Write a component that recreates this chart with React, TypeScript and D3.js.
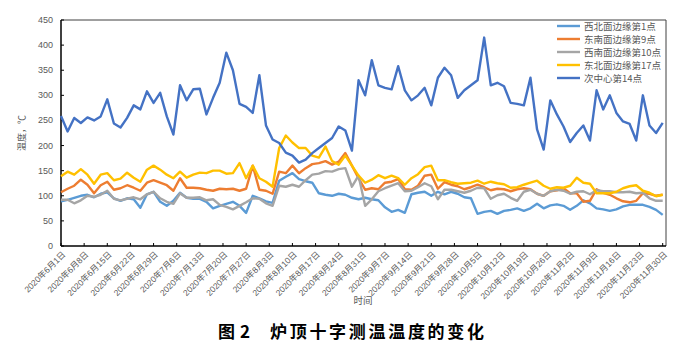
import * as d3 from 'd3';

// 数据：2020-06-01 起每 2 天一个点（至 11-30）
const startDate = new Date(2020, 5, 1);
const dayOffsets = d3.range(0, 183, 2);
const tickOffsets = d3.range(0, 183, 7);

const seriesNames = ['西北面边缘第1点', '东南面边缘第9点', '西南面边缘第10点', '东北面边缘第17点', '次中心第14点'];
const seriesColors = ['#5B9BD5', '#ED7D31', '#A5A5A5', '#FFC000', '#4472C4'];

const nw1 = [
  89, 92, 96, 100, 102, 97, 104, 107, 95, 90,
  95, 93, 76, 103, 108, 88, 80, 90, 106, 96,
  94, 94, 88, 75, 80, 84, 88, 80, 66, 100,
  95, 89, 86, 130, 138, 145, 133, 129, 126, 105,
  102, 100, 104, 102, 96, 93, 96, 93, 91, 77,
  68, 72, 66, 103, 106, 108, 100, 108, 103, 108,
  104, 97, 95, 64, 68, 70, 64, 70, 72, 75,
  70, 75, 84, 75, 81, 83, 80, 72, 80, 91,
  85, 75, 73, 70, 73, 79, 82, 82, 82, 78,
  72, 62,
];
const se9 = [
  107, 114, 120, 132, 122, 105, 121, 128, 112, 115,
  121, 116, 110, 126, 131, 126, 121, 110, 135, 116,
  116, 115, 112, 110, 114, 113, 114, 110, 114, 160,
  112, 110, 104, 148, 145, 160, 145, 155, 163, 165,
  169, 162, 168, 185, 160, 135, 112, 115, 113, 126,
  128, 133, 113, 112, 120, 140, 142, 114, 127, 122,
  119, 113, 117, 122, 117, 111, 114, 113, 109, 113,
  115, 113, 104, 100, 109, 111, 115, 105, 105, 88,
  90, 113, 106, 102, 95, 89, 87, 90, 105, 104,
  100, 102,
];
const sw10 = [
  92, 92, 85, 91, 100, 98, 102, 110, 94, 91,
  94, 97, 93, 103, 108, 95, 88, 84, 105, 96,
  96, 97, 91, 93, 82, 78, 73, 80, 87, 95,
  94, 85, 80, 120, 118, 122, 118, 131, 142, 144,
  149, 148, 153, 155, 118, 140, 80, 93, 109, 115,
  120, 125, 109, 110, 117, 125, 119, 93, 112, 112,
  109, 106, 110, 116, 115, 94, 101, 104, 96, 90,
  108, 112, 104, 100, 109, 112, 110, 104, 108, 109,
  103, 111, 109, 109, 107, 107, 108, 105, 106, 95,
  90, 90,
];
const ne17 = [
  139, 148, 142, 153, 142, 124, 142, 145, 131, 134,
  146, 136, 128, 152, 160, 152, 142, 135, 148, 136,
  142, 146, 145, 150, 150, 144, 145, 165, 135, 160,
  135, 128, 118, 195, 220, 206, 195, 195, 180, 176,
  198, 169, 162, 180, 160, 140, 126, 132, 141, 135,
  140, 135, 122, 135, 143, 157, 160, 131, 131, 127,
  124, 125, 126, 130, 124, 128, 125, 123, 116, 117,
  122, 126, 130, 120, 114, 117, 116, 120, 136, 126,
  124, 105, 105, 105, 108, 115, 119, 121, 110, 106,
  99, 102,
];
const center14 = [
  259, 228, 255, 245, 256, 250, 258, 292, 244, 236,
  255, 280, 272, 308, 285, 305, 258, 222, 320, 290,
  312, 313, 262, 295, 325, 385, 350, 283, 277, 265,
  340, 240, 212, 205, 186, 180, 166, 172, 185, 195,
  205, 215, 238, 230, 190, 330, 300, 370, 320, 315,
  312, 358, 310, 290, 300, 315, 280, 335, 355, 340,
  295, 310, 320, 330, 415, 320, 325, 318, 285, 283,
  280, 335, 232, 192, 290, 262, 238, 207, 225, 240,
  210, 310, 272, 300, 265, 248, 243, 210, 300, 240,
  225, 245,
];

const yTicks = [0, 50, 100, 150, 200, 250, 300, 350, 400, 450];

const W = 698;
const H = 353;
const left = 61;
const right = 666;
const top = 20;
const bottom = 246;

const labelFont = '"Liberation Sans", "Noto Sans CJK SC", sans-serif';
const cjkFont = '"Noto Sans CJK SC", sans-serif';

export default function App() {
  const dates = dayOffsets.map((d) => d3.timeDay.offset(startDate, d));
  const x = d3
    .scaleTime()
    .domain([startDate, d3.timeDay.offset(startDate, 183)])
    .range([left, right]);
  const y = d3.scaleLinear().domain([0, 450]).range([bottom, top]);

  const allSeries = [nw1, se9, sw10, ne17, center14];
  const line = d3
    .line<number>()
    .x((_, i) => x(dates[i]))
    .y((v) => y(v));

  const fmt = (d: Date) => `${d.getFullYear()}年${d.getMonth() + 1}月${d.getDate()}日`;
  const ticks = tickOffsets.map((o) => d3.timeDay.offset(startDate, o));

  return (
    <svg
      width={W}
      height={H}
      style={{ position: 'absolute', left: 0, top: 0, background: '#fff' }}
    >
      {/* frame */}
      <line x1={left} x2={right} y1={top} y2={top} stroke="#404040" strokeWidth={1} />
      <line x1={right} x2={right} y1={top} y2={bottom} stroke="#404040" strokeWidth={1} />

      {/* y axis */}
      <line x1={left} x2={left} y1={top} y2={bottom} stroke="#000" strokeWidth={1.5} />
      {yTicks.map((t) => (
        <g key={t}>
          <line x1={left} x2={left + 3} y1={y(t)} y2={y(t)} stroke="#000" />
          <text
            x={left - 8}
            y={y(t) + 3}
            textAnchor="end"
            fontSize={9}
            fill="#595959"
            fontFamily={labelFont}
          >
            {t}
          </text>
        </g>
      ))}
      <text
        transform={`translate(25,133) rotate(-90)`}
        textAnchor="middle"
        fontSize={9}
        fill="#595959"
        fontFamily={cjkFont}
      >
        温度，℃
      </text>

      {/* x axis */}
      <line x1={left} x2={right} y1={bottom} y2={bottom} stroke="#000" strokeWidth={1.5} />
      {ticks.map((t, i) => (
        <g key={i}>
          <line x1={x(t)} x2={x(t)} y1={bottom} y2={bottom - 3} stroke="#000" />
          <text
            transform={`translate(${x(t) + 5},${bottom + 9}) rotate(-45)`}
            textAnchor="end"
            fontSize={8.5}
            fill="#595959"
            fontFamily={labelFont}
          >
            {fmt(t)}
          </text>
        </g>
      ))}
      <text x={363} y={304} textAnchor="middle" fontSize={9.5} fill="#595959" fontFamily={cjkFont}>
        时间
      </text>

      {/* series */}
      {allSeries.map((s, i) => (
        <path
          key={i}
          d={line(s) ?? ''}
          fill="none"
          stroke={seriesColors[i]}
          strokeWidth={2.4}
          strokeLinejoin="round"
        />
      ))}

      {/* legend */}
      {seriesNames.map((n, i) => (
        <g key={n} transform={`translate(557,${26 + i * 13})`}>
          <line x1={0} x2={23} y1={0} y2={0} stroke={seriesColors[i]} strokeWidth={2.4} />
          <text x={27} y={3.5} fontSize={9.5} fill="#595959" fontFamily={cjkFont}>
            {n}
          </text>
        </g>
      ))}

      {/* title */}
      <text x={218} y={338} fontSize={17} fontWeight={700} fill="#000" fontFamily={cjkFont}>
        图
      </text>
      <text x={240} y={338} fontSize={17} fontWeight={700} fill="#000" fontFamily={cjkFont}>
        2
      </text>
      <text
        x={270}
        y={338}
        fontSize={17}
        fontWeight={700}
        fill="#000"
        fontFamily={cjkFont}
        letterSpacing={2.7}
      >
        炉顶十字测温温度的变化
      </text>
    </svg>
  );
}
